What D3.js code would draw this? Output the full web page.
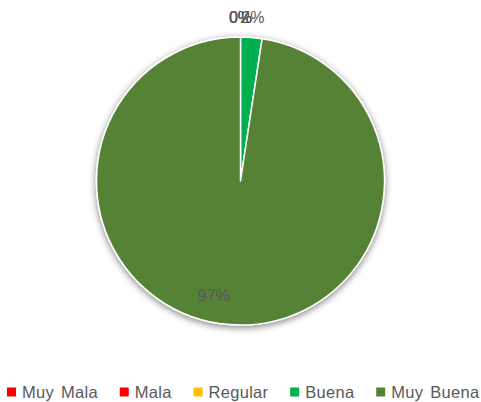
<!DOCTYPE html>
<html>
<head>
<meta charset="utf-8">
<script src="https://cdn.jsdelivr.net/npm/d3@7/dist/d3.min.js"></script>
<style>
  html, body { margin: 0; padding: 0; background: #ffffff; }
  svg { display: block; }
  text { font-family: "Liberation Sans", Arial, sans-serif; fill: #595959; }
</style>
</head>
<body>
<svg id="chart" width="481" height="402"></svg>
<script>
const categories = ["Muy Mala", "Mala", "Regular", "Buena", "Muy Buena"];
const values = [0, 0, 0, 2.4, 97.6];
const colors = ["#FF0000", "#FF0000", "#FFC000", "#00B050", "#548235"];

const W = 481, H = 402;
const cx = 240.5, cy = 181, R = 144;

const svg = d3.select("#chart");
const defs = svg.append("defs");
const f = defs.append("filter").attr("id", "shadow")
  .attr("x", "-20%").attr("y", "-20%").attr("width", "140%").attr("height", "140%");
f.append("feGaussianBlur").attr("in", "SourceAlpha").attr("stdDeviation", 3.5).attr("result", "b");
f.append("feOffset").attr("in", "b").attr("dx", 0).attr("dy", 2).attr("result", "o");
f.append("feComponentTransfer").attr("in", "o").attr("result", "o2")
  .append("feFuncA").attr("type", "linear").attr("slope", 0.5);
const m = f.append("feMerge");
m.append("feMergeNode").attr("in", "o2");
m.append("feMergeNode").attr("in", "SourceGraphic");

const data = categories.map((c, i) => ({ cat: c, value: values[i], color: colors[i] }));
const total = d3.sum(values);

const pie = d3.pie().sort(null).value(d => d.value);
const arcs = pie(data);
const arc = d3.arc().innerRadius(0).outerRadius(R);

const g = svg.append("g").attr("transform", `translate(${cx},${cy})`);
g.append("g").attr("filter", "url(#shadow)")
  .selectAll("path").data(arcs.filter(d => d.value > 0)).join("path")
  .attr("d", arc)
  .attr("fill", d => d.data.color)
  .attr("stroke", "#ffffff")
  .attr("stroke-width", 1.5)
  .attr("stroke-linejoin", "round");

const outerArc = d3.arc().innerRadius(R + 20).outerRadius(R + 20);
const innerArc = d3.arc().innerRadius(R * 0.8).outerRadius(R * 0.8);
const fmt = v => Math.floor(v / total * 100) + "%";

g.selectAll("text.lbl").data(arcs).join("text")
  .attr("class", "lbl")
  .attr("transform", d => {
    const big = d.value / total > 0.1;
    const [x, y] = big ? innerArc.centroid(d) : outerArc.centroid(d);
    const dx = big ? -18 : 0;
    return `translate(${x + dx},${y})`;
  })
  .attr("text-anchor", "middle")
  .attr("dy", "0.35em")
  .style("font-size", "16px")
  .text(d => fmt(d.value));

// legend
const legend = svg.append("g").attr("transform", `translate(0,392)`);
const fsz = 16.5;
let x = 7;
const items = legend.selectAll("g.item").data(data).join("g").attr("class", "item");
items.each(function(d) {
  const it = d3.select(this).attr("transform", `translate(${x},0)`);
  it.append("rect").attr("x", 0).attr("y", -4.5).attr("width", 9).attr("height", 9).attr("fill", d.color);
  const t = it.append("text").attr("x", 15).attr("y", 0).attr("dy", "0.36em")
    .style("font-size", fsz + "px").style("letter-spacing", "0.3px").style("word-spacing", "2px").text(d.cat);
  x += 15 + t.node().getComputedTextLength() + 21.8;
});
</script>
</body>
</html>
